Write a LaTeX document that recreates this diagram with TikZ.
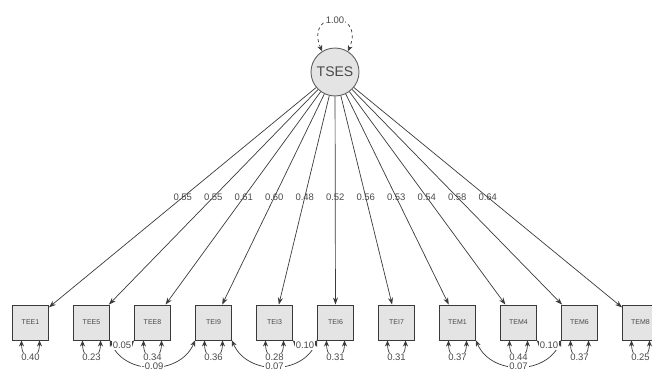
\documentclass[tikz,border=0pt]{standalone}
\usepackage{fontspec}
\setmainfont{Liberation Sans}
\usetikzlibrary{arrows.meta,calc}
\definecolor{boxgray}{HTML}{E4E4E4}
\definecolor{linegray}{HTML}{3A3A3A}
\definecolor{textgray}{HTML}{4A4A4A}
\tikzset{
	item/.style={draw=linegray, fill=boxgray, line width=0.9pt, minimum width=36pt, minimum height=35pt, inner sep=0pt, text=textgray, font=\fontsize{7}{8}\selectfont},
	factor/.style={circle, draw=linegray!80, fill=boxgray, line width=0.9pt, minimum size=48pt, inner sep=0pt, text=textgray, font=\fontsize{14}{16}\selectfont},
	load/.style={-{Stealth[length=7pt,width=5pt]}, draw=linegray, line width=0.7pt},
	resid/.style={{Stealth[length=6pt,width=5pt]}-{Stealth[length=6pt,width=5pt]}, draw=linegray, line width=0.7pt},
	val/.style={text=textgray, inner sep=1pt, font=\fontsize{9.5}{11}\selectfont},
}

\begin{document}
\begin{tikzpicture}[x=1pt,y=-1pt]
		\useasboundingbox (0,0) rectangle (652,372);
		
		% Latent factor
		\node[factor] (TSES) at (335,72) {TSES};
		\draw[resid, dashed] (TSES.122) .. controls +(-18,-42) and +(18,-42) .. (TSES.58) node[midway, val, fill=white] {1.00};
		
		% Observed items
		\node[item] (TEE1) at (30.5,322.5) {TEE1};
		\node[item] (TEE5) at (91.5,322.5) {TEE5};
		\node[item] (TEE8) at (152.5,322.5) {TEE8};
		\node[item] (TEI9) at (213.5,322.5) {TEI9};
		\node[item] (TEI3) at (274.5,322.5) {TEI3};
		\node[item] (TEI6) at (335.5,322.5) {TEI6};
		\node[item] (TEI7) at (396.5,322.5) {TEI7};
		\node[item] (TEM1) at (457.5,322.5) {TEM1};
		\node[item] (TEM4) at (518.5,322.5) {TEM4};
		\node[item] (TEM6) at (579.5,322.5) {TEM6};
		\node[item] (TEM8) at (640.5,322.5) {TEM8};
		
		% Loadings
		\draw[load] (TSES) -- (TEE1);
		\draw[load] (TSES) -- (TEE5);
		\draw[load] (TSES) -- (TEE8);
		\draw[load] (TSES) -- (TEI9);
		\draw[load] (TSES) -- (TEI3);
		\draw[load] (TSES) -- (TEI6);
		\draw[load] (TSES) -- (TEI7);
		\draw[load] (TSES) -- (TEM1);
		\draw[load] (TSES) -- (TEM4);
		\draw[load] (TSES) -- (TEM6);
		\draw[load] (TSES) -- (TEM8);
		\node[val] at ($(TSES)!0.5!(TEE1)$) {0.55};
		\node[val] at ($(TSES)!0.5!(TEE5)$) {0.55};
		\node[val] at ($(TSES)!0.5!(TEE8)$) {0.61};
		\node[val] at ($(TSES)!0.5!(TEI9)$) {0.60};
		\node[val] at ($(TSES)!0.5!(TEI3)$) {0.48};
		\node[val] at ($(TSES)!0.5!(TEI6)$) {0.52};
		\node[val] at ($(TSES)!0.5!(TEI7)$) {0.56};
		\node[val] at ($(TSES)!0.5!(TEM1)$) {0.53};
		\node[val] at ($(TSES)!0.5!(TEM4)$) {0.54};
		\node[val] at ($(TSES)!0.5!(TEM6)$) {0.58};
		\node[val] at ($(TSES)!0.5!(TEM8)$) {0.64};
		
		% Correlated residuals
		\draw[resid] (TEE5.south east) .. controls +(15,35) and +(-15,35) .. (TEI9.south west) node[midway, val, fill=white] {-0.09};
		\draw[resid] (TEE5.south east) .. controls +(6,7) and +(-6,7) .. (TEE8.south west) node[midway, val, fill=white] {0.05};
		\draw[resid] (TEI9.south east) .. controls +(15,35) and +(-15,35) .. (TEI6.south west) node[midway, val, fill=white] {0.07};
		\draw[resid] (TEI3.south east) .. controls +(6,7) and +(-6,7) .. (TEI6.south west) node[midway, val, fill=white] {0.10};
		\draw[resid] (TEM1.south east) .. controls +(15,35) and +(-15,35) .. (TEM6.south west) node[midway, val, fill=white] {0.07};
		\draw[resid] (TEM4.south east) .. controls +(6,7) and +(-6,7) .. (TEM6.south west) node[midway, val, fill=white] {0.10};
		
		% Residual variances
		\draw[resid] ([xshift=-9pt]TEE1.south) .. controls +(0,22) and +(0,22) .. ([xshift=9pt]TEE1.south) node[midway, val, fill=white] {0.40};
		\draw[resid] ([xshift=-9pt]TEE5.south) .. controls +(0,22) and +(0,22) .. ([xshift=9pt]TEE5.south) node[midway, val, fill=white] {0.23};
		\draw[resid] ([xshift=-9pt]TEE8.south) .. controls +(0,22) and +(0,22) .. ([xshift=9pt]TEE8.south) node[midway, val, fill=white] {0.34};
		\draw[resid] ([xshift=-9pt]TEI9.south) .. controls +(0,22) and +(0,22) .. ([xshift=9pt]TEI9.south) node[midway, val, fill=white] {0.36};
		\draw[resid] ([xshift=-9pt]TEI3.south) .. controls +(0,22) and +(0,22) .. ([xshift=9pt]TEI3.south) node[midway, val, fill=white] {0.28};
		\draw[resid] ([xshift=-9pt]TEI6.south) .. controls +(0,22) and +(0,22) .. ([xshift=9pt]TEI6.south) node[midway, val, fill=white] {0.31};
		\draw[resid] ([xshift=-9pt]TEI7.south) .. controls +(0,22) and +(0,22) .. ([xshift=9pt]TEI7.south) node[midway, val, fill=white] {0.31};
		\draw[resid] ([xshift=-9pt]TEM1.south) .. controls +(0,22) and +(0,22) .. ([xshift=9pt]TEM1.south) node[midway, val, fill=white] {0.37};
		\draw[resid] ([xshift=-9pt]TEM4.south) .. controls +(0,22) and +(0,22) .. ([xshift=9pt]TEM4.south) node[midway, val, fill=white] {0.44};
		\draw[resid] ([xshift=-9pt]TEM6.south) .. controls +(0,22) and +(0,22) .. ([xshift=9pt]TEM6.south) node[midway, val, fill=white] {0.37};
		\draw[resid] ([xshift=-9pt]TEM8.south) .. controls +(0,22) and +(0,22) .. ([xshift=9pt]TEM8.south) node[midway, val, fill=white] {0.25};
		
	\end{tikzpicture}
\end{document}
